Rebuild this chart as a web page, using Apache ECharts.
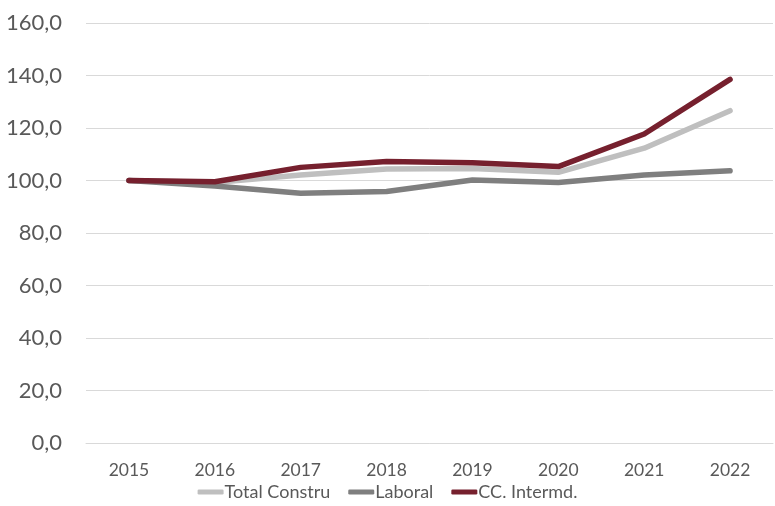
<!DOCTYPE html>
<html><head><meta charset="utf-8">
<script src="https://cdn.jsdelivr.net/npm/echarts@6/dist/echarts.min.js"></script>
<style>html,body{margin:0;padding:0;background:#fff}#c{width:775px;height:506px}</style>
</head><body><div id="c"></div>
<script>
var years = ['2015','2016','2017','2018','2019','2020','2021','2022'];
var totalConstru = [100.0, 99.2, 102.1, 104.4, 104.6, 103.1, 112.3, 126.6];
var laboral = [100.0, 97.9, 95.1, 95.8, 100.2, 99.2, 102.1, 103.7];
var ccIntermd = [100.0, 99.5, 105.0, 107.2, 106.8, 105.3, 117.7, 138.5];
var names = ['Total Constru', 'Laboral', 'CC. Intermd.'];
var colors = ['#BFBFBF', '#7F7F7F', '#76202E'];
var font = 'Lato, "Open Sans", sans-serif';
var chart = echarts.init(document.getElementById('c'));
function mk(name, data, color, z) {
  return {name: name, type: 'line', data: data, symbol: 'none', z: z,
    lineStyle: {width: 5.5, color: color, cap: 'round', join: 'round'},
    itemStyle: {color: color}};
}
chart.setOption({
  animation: false,
  color: colors,
  grid: {left: 86, right: 2, top: 23, bottom: 63},
  legend: {bottom: 0, left: 'center', itemWidth: 26, itemHeight: 5, itemGap: 18,
    icon: 'roundRect',
    textStyle: {color: '#595959', fontSize: 18, fontFamily: font, padding: [0, 0, 0, -4]},
    data: names},
  xAxis: {type: 'category', data: years, boundaryGap: true,
    axisLine: {show: true, lineStyle: {color: '#D9D9D9', width: 1}},
    axisTick: {show: false},
    axisLabel: {color: '#595959', fontSize: 17.5, fontFamily: font, margin: 18}},
  yAxis: {type: 'value', min: 0, max: 160, interval: 20,
    axisLine: {show: false}, axisTick: {show: false},
    splitLine: {lineStyle: {color: '#D9D9D9', width: 1}},
    axisLabel: {color: '#595959', fontSize: 22, fontFamily: font, margin: 24,
      formatter: function (v) { return v.toFixed(1).replace('.', ','); }}},
  series: [
    mk(names[0], totalConstru, colors[0], 2),
    mk(names[1], laboral, colors[1], 3),
    mk(names[2], ccIntermd, colors[2], 4)
  ]
});
</script></body></html>
